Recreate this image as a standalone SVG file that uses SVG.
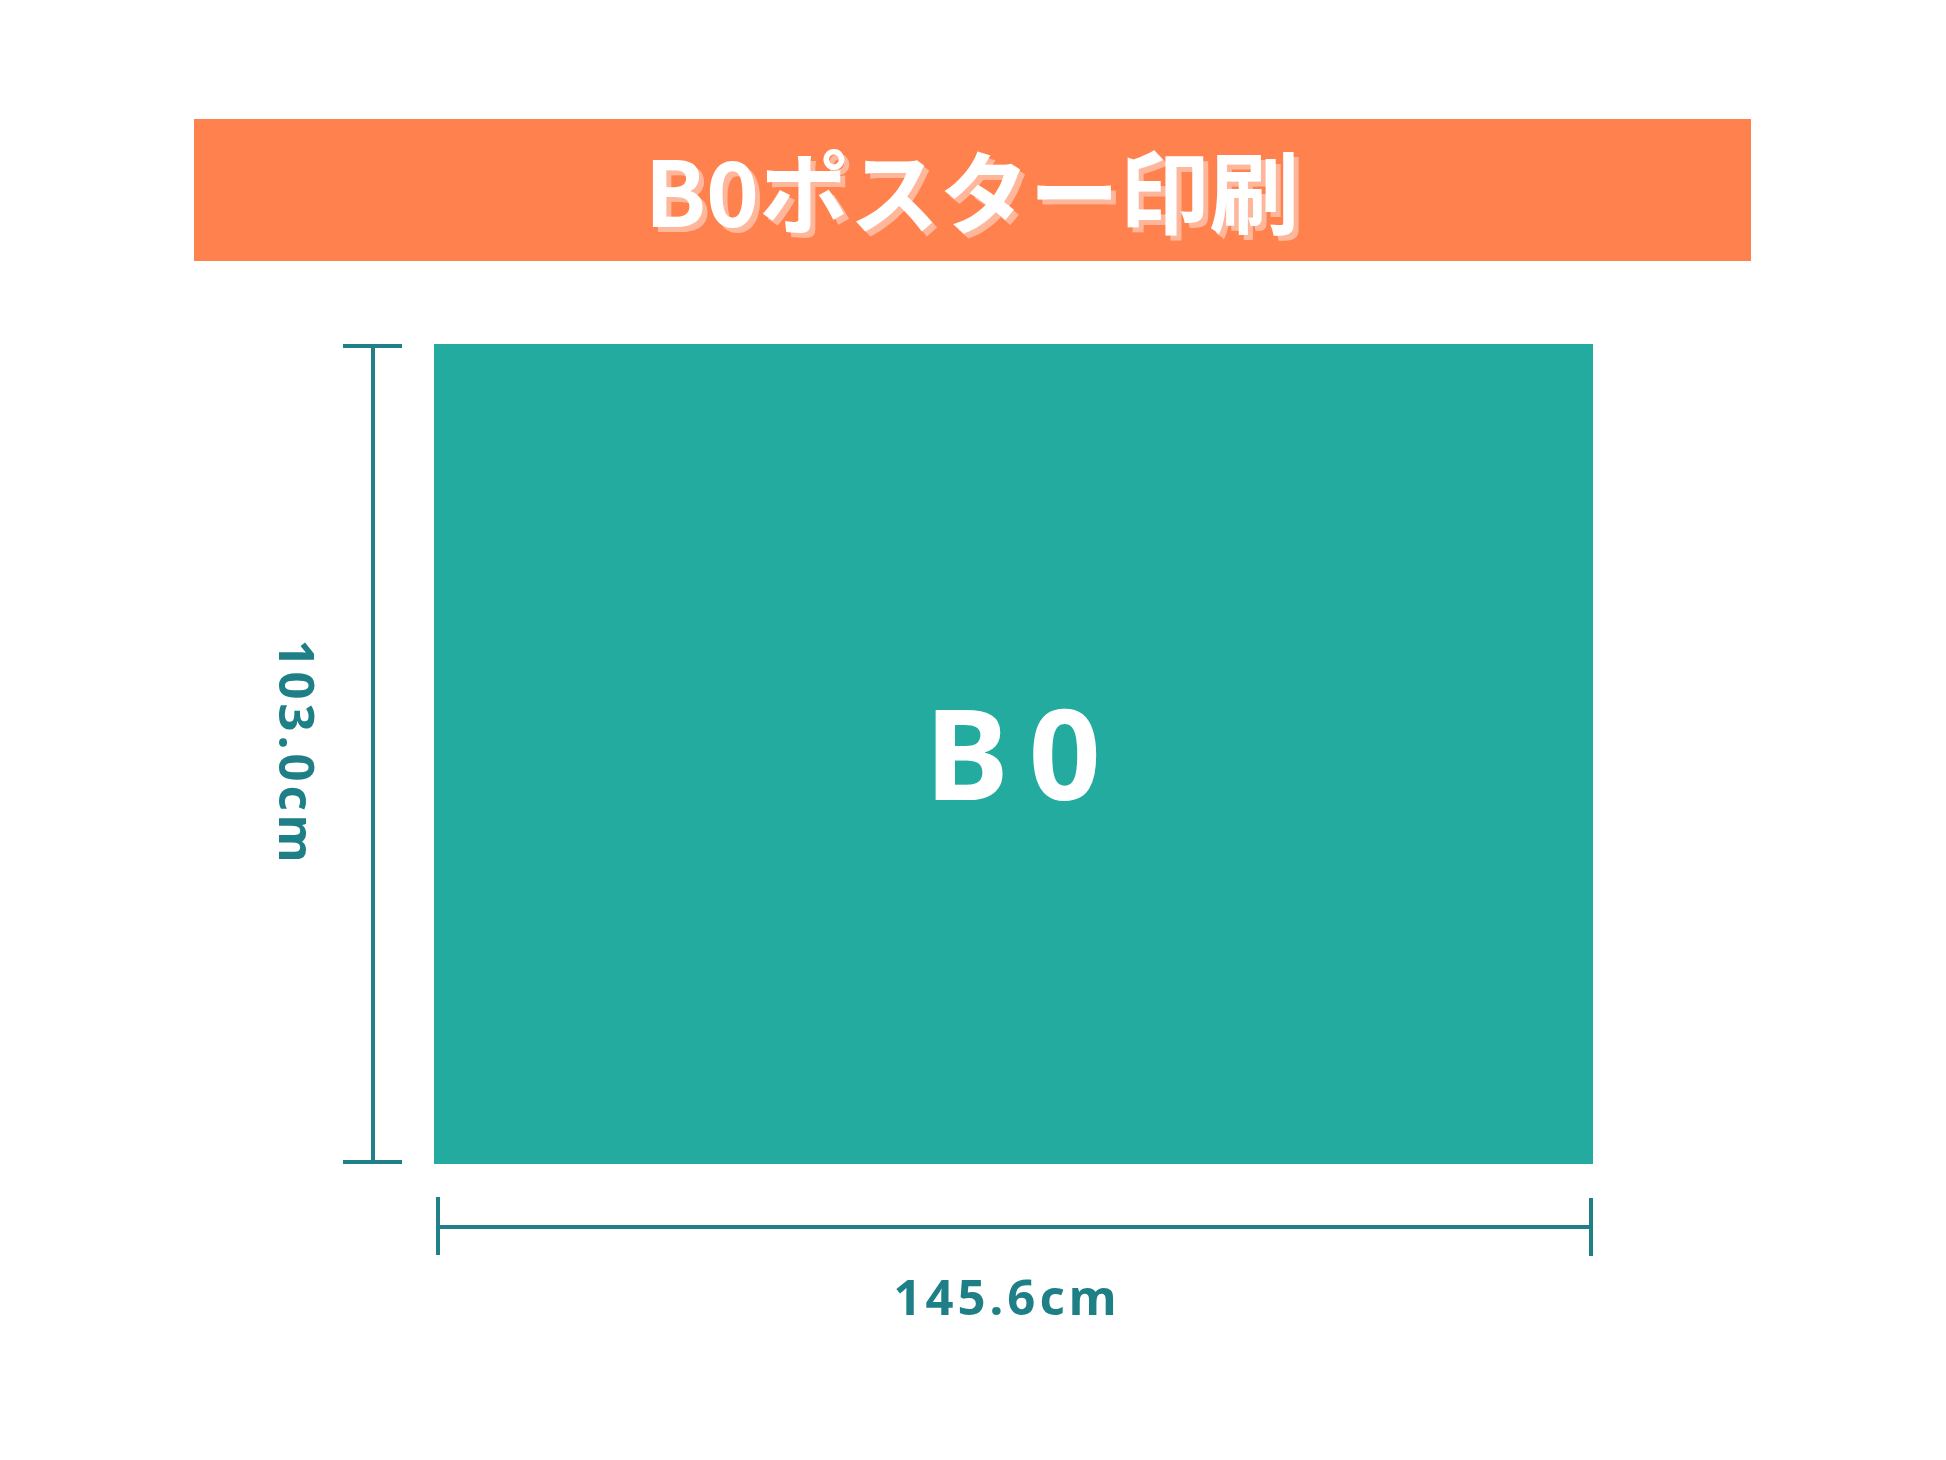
<svg xmlns="http://www.w3.org/2000/svg" width="1946" height="1460" viewBox="0 0 1946 1460">
<defs>
<filter id="shadow" x="-5%" y="-20%" width="110%" height="140%">
<feOffset in="SourceAlpha" dx="5" dy="5" result="off"/>
<feFlood flood-color="#FFB79C"/>
<feComposite in2="off" operator="in" result="sh"/>
<feMerge><feMergeNode in="sh"/><feMergeNode in="SourceGraphic"/></feMerge>
</filter>
</defs>
<style>
.dim{stroke:#1F8088;stroke-width:4;fill:none;stroke-linecap:butt}
.lbl{font-family:"Noto Sans","DejaVu Sans",sans-serif;font-weight:700;font-size:49px;fill:#1F7F86;letter-spacing:4px}
.title{font-family:"Noto Sans CJK JP","Noto Sans",sans-serif;font-weight:700;font-size:90px}
</style>
<rect width="1946" height="1460" fill="#FFFFFF"/>
<g id="banner">
<rect x="194" y="119" width="1557" height="142" fill="#FF814D"/>
<text class="title" x="972" y="227" text-anchor="middle" fill="#FFFFFF" filter="url(#shadow)">B0ポスター印刷</text>
</g>
<g id="sheet">
<rect x="434" y="344" width="1159" height="820" fill="#23ABA0"/>
<text x="1023" y="800" text-anchor="middle" font-family="Noto Sans, DejaVu Sans, sans-serif" font-weight="700" font-size="126" letter-spacing="20" fill="#FFFFFF">B0</text>
</g>
<g id="connectors">
<path class="dim" d="M373 346 V1162 M343 346 H402 M343 1162 H402"/>
<path class="dim" d="M438 1197 V1255 M438 1227 H1591 M1591 1198 V1256"/>
</g>
<g id="height-label">
<text class="lbl" transform="translate(279,753) rotate(90)" text-anchor="middle">103.0cm</text>
</g>
<g id="width-label">
<text class="lbl" x="1007" y="1315" text-anchor="middle">145.6cm</text>
</g>
</svg>
